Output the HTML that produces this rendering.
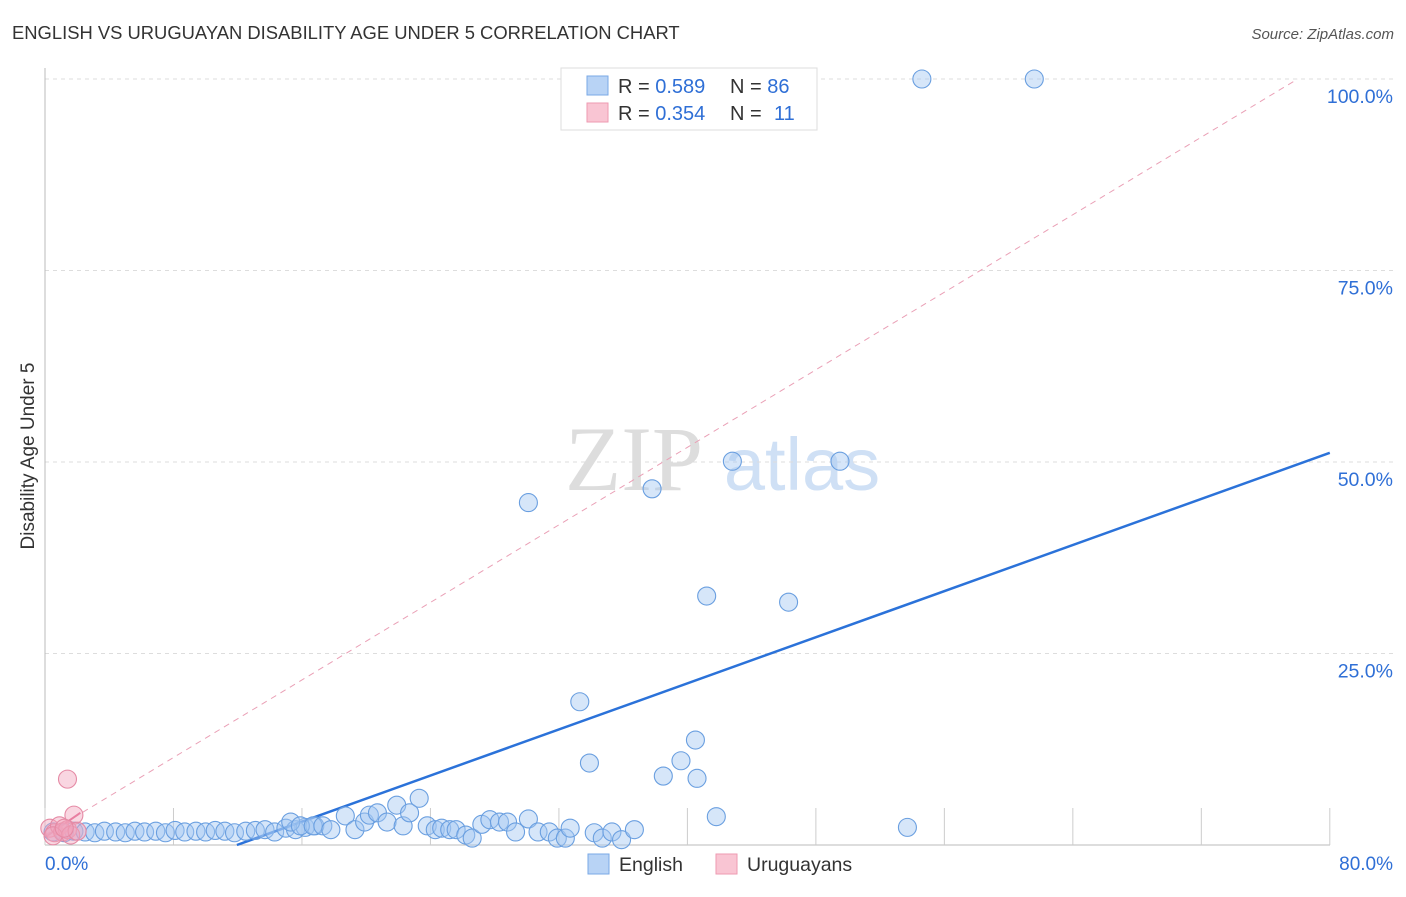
<!DOCTYPE html>
<html><head><meta charset="utf-8"><style>
body{margin:0;background:#fff;font-family:"Liberation Sans",sans-serif}
</style></head><body>
<svg width="1406" height="892" viewBox="0 0 1406 892" xmlns="http://www.w3.org/2000/svg">
<text x="12" y="39" font-size="18.4" fill="#333">ENGLISH VS URUGUAYAN DISABILITY AGE UNDER 5 CORRELATION CHART</text>
<text x="1394" y="39" font-size="15" fill="#555" font-style="italic" text-anchor="end">Source: ZipAtlas.com</text>
<text x="34" y="456" font-size="19" fill="#333" text-anchor="middle" transform="rotate(-90 34 456)">Disability Age Under 5</text>
<g>
<text x="634" y="490" font-size="92" fill="#ddd" font-family="Liberation Serif,serif" text-anchor="middle">ZIP</text>
<text x="802" y="490" font-size="74" fill="#cfe0f5" text-anchor="middle">atlas</text>
</g>
<g id="grid"></g>
<g id="axes"></g>
<g id="lines"></g>
<g id="pts"></g>
<g>
<rect x="561" y="68" width="256" height="62" fill="#fff" stroke="#ddd"/>
<rect x="587" y="76" width="21" height="19" fill="#b8d3f5" stroke="#7aa8e6"/>
<rect x="587" y="103" width="21" height="19" fill="#f9c5d3" stroke="#ee9ab2"/>
<text x="618" y="93" font-size="20" fill="#333">R = <tspan fill="#2f6fd6">0.589</tspan></text>
<text x="730" y="93" font-size="20" fill="#333">N = <tspan fill="#2f6fd6">86</tspan></text>
<text x="618" y="120" font-size="20" fill="#333">R = <tspan fill="#2f6fd6">0.354</tspan></text>
<text x="730" y="120" font-size="20" fill="#333">N = <tspan x="774" fill="#2f6fd6">11</tspan></text>
</g>
<g>
<rect x="588" y="854" width="21" height="20" fill="#b8d3f5" stroke="#7aa8e6"/>
<text x="619" y="871" font-size="19.5" fill="#333">English</text>
<rect x="716" y="854" width="21" height="20" fill="#f9c5d3" stroke="#ee9ab2"/>
<text x="747" y="871" font-size="19.5" fill="#333">Uruguayans</text>
</g>
<text x="45" y="870" font-size="19" fill="#2f6fd6">0.0%</text>
<text x="1393" y="870" font-size="19" fill="#2f6fd6" text-anchor="end">80.0%</text>
</svg>
<script>
const NS="http://www.w3.org/2000/svg";
const yTicks=[25,50,75,100];
const yTickLabels=["25.0%","50.0%","75.0%","100.0%"];
const xTicks=[0,8,16,24,32,40,48,56,64,72,80];
const engX=[54.6,61.6,42.8,49.5,37.8,30.1,41.2,46.3,33.3,40.5,33.9,39.6,38.5,40.6,41.8,53.7,
0.5,1.2,1.8,2.5,3.1,3.7,4.4,5,5.6,6.2,6.9,7.5,8.1,8.7,9.4,10,10.6,11.2,11.8,12.5,13.1,13.7,14.3,15,15.6,16.2,16.8,
15.3,15.9,16.7,17.3,17.8,18.7,19.3,19.9,20.2,20.7,21.3,21.9,22.3,22.7,23.3,23.8,24.3,24.7,25.2,25.6,26.2,26.6,27.2,27.7,28.3,28.8,29.3,30.1,30.7,31.4,31.9,32.4,32.7,34.2,34.7,35.3,35.9,36.7];
const engY=[100,100,50.1,50.1,46.5,44.7,32.5,31.7,18.7,13.7,10.7,11.0,9.0,8.7,3.7,2.3,
1.7,1.6,1.8,1.7,1.6,1.8,1.7,1.6,1.8,1.7,1.8,1.6,1.9,1.7,1.8,1.7,1.9,1.8,1.6,1.8,1.9,2.0,1.7,2.2,2.0,2.3,2.5,
3.0,2.5,2.5,2.5,2.0,3.8,2.0,3.0,3.9,4.2,3.0,5.2,2.5,4.2,6.1,2.5,2.0,2.2,2.0,2.0,1.3,0.9,2.7,3.3,3.0,3.0,1.7,3.4,1.7,1.7,0.9,0.9,2.2,1.6,0.9,1.7,0.7,2.0];
const uruX=[1.4,1.8,0.3,0.6,0.9,1.1,1.4,1.6,0.5,2.0,1.2];
const uruY=[8.6,3.9,2.2,1.6,2.5,1.7,2.0,1.3,1.2,1.8,2.2];
const engLine=[[11.95,0],[80,51.2]];
const uruLine=[[0,1.3],[78,100]];
const X=v=>45+v*16.06, Y=v=>845-v*7.66;
function mk(tag,a,parent){const e=document.createElementNS(NS,tag);for(const k in a)e.setAttribute(k,a[k]);document.getElementById(parent).appendChild(e);return e;}
yTicks.forEach((t,i)=>{
 const l=mk("line",{x1:45,x2:1395,y1:Y(t),y2:Y(t),stroke:"#ddd","stroke-dasharray":"4,4"},"grid");
 
 
 const tx=mk("text",{x:1393,y:Y(t)+24,"font-size":19.5,fill:"#2f6fd6","text-anchor":"end"},"grid");
 tx.textContent=yTickLabels[i];
 
 
});
const ax=mk("line",{x1:45,x2:45,y1:68,y2:845,stroke:"#bbb"},"axes");


const bx=mk("line",{x1:45,x2:1330,y1:845,y2:845,stroke:"#bbb"},"axes");


xTicks.forEach(t=>{
 const l=mk("line",{x1:X(t),x2:X(t),y1:845,y2:808,stroke:"#ccc"},"axes");
 
 
});
const ul=mk("line",{x1:X(uruLine[0][0]),y1:Y(uruLine[0][1]),x2:X(uruLine[1][0]),y2:Y(uruLine[1][1]),stroke:"#eaa0b6","stroke-dasharray":"6,5","stroke-width":1},"lines");


const el=mk("line",{x1:X(engLine[0][0]),y1:Y(engLine[0][1]),x2:X(engLine[1][0]),y2:Y(engLine[1][1]),stroke:"#2b72d9","stroke-width":2.5},"lines");


engX.forEach((x,i)=>{
 const c=mk("circle",{cx:X(x),cy:Y(engY[i]),r:9,fill:"rgba(165,200,242,0.45)",stroke:"#6a9fe0","stroke-width":1.1},"pts");
 
 
});
uruX.forEach((x,i)=>{
 const c=mk("circle",{cx:X(x),cy:Y(uruY[i]),r:9,fill:"rgba(242,165,188,0.45)",stroke:"#e58aa5","stroke-width":1.1},"pts");
 
 
});
const pl=mk("line",{x1:X(0),y1:Y(1.0),x2:X(2.2),y2:Y(4.2),stroke:"#e0608a","stroke-width":2},"lines");


</script>
</body></html>
